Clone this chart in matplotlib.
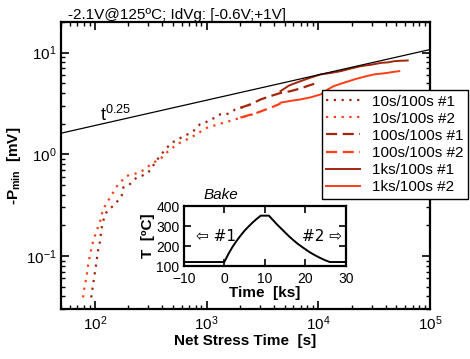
import matplotlib
matplotlib.use("Agg")
import matplotlib.pyplot as plt

plt.rcParams.update({
    "font.family": ["Liberation Sans", "DejaVu Sans"],
    "mathtext.fontset": "custom",
    "mathtext.rm": "Liberation Sans",
    "mathtext.it": "Liberation Sans:italic",
    "mathtext.bf": "Liberation Sans:bold",
    "font.size": 10,
})

DARK = "#a3250c"
ORANGE = "#ff3d17"

# 10s/100s (dotted)
t_dot1 = [93, 97, 100, 104, 107, 111, 115, 119, 127, 137, 146, 156, 174, 180, 199,
          237, 263, 301, 340, 380, 430, 489, 550, 621, 690, 764, 820, 877, 960,
          1080, 1200, 1330, 1480, 1630, 1800, 2010, 2230, 2470]
v_dot1 = [0.039, 0.054, 0.067, 0.090, 0.113, 0.136, 0.185, 0.222, 0.268, 0.291, 0.311,
          0.335, 0.390, 0.471, 0.489, 0.590, 0.612, 0.660, 0.80, 0.95, 1.12, 1.30,
          1.38, 1.51, 1.58, 1.69, 1.85, 1.97, 2.02, 2.20, 2.28, 2.47, 2.45, 2.56,
          2.75, 2.86, 2.95, 3.09]
t_dot2 = [78.5, 81, 84, 87, 90, 93, 97, 104, 111, 115, 119, 127, 137, 146, 162, 174,
          193, 221, 254, 291, 334, 384, 441, 510, 581, 670, 764, 880, 1010, 1200,
          1420, 1700, 2010, 2400, 2840]
v_dot2 = [0.039, 0.050, 0.060, 0.080, 0.097, 0.117, 0.141, 0.177, 0.213, 0.248, 0.291,
          0.324, 0.376, 0.420, 0.508, 0.547, 0.612, 0.637, 0.660, 0.739, 0.827, 0.893,
          1.04, 1.18, 1.30, 1.40, 1.51, 1.66, 1.82, 1.93, 2.04, 2.15, 2.29, 2.40,
          2.56]

# 100s/100s (dashed)
t_dash1 = [2010, 2470, 3040, 3740, 4590, 5650, 7000, 8300, 9800]
v_dash1 = [2.86, 3.09, 3.45, 3.73, 4.0, 4.17, 4.45, 4.75, 5.03]
t_dash2 = [2010, 2840, 3740, 4590]
v_dash2 = [2.29, 2.56, 2.86, 3.15]

# 1ks/100s (solid)
t_sol1 = [4590, 5500, 6950, 8500, 10500, 13000, 15900, 19500, 24000, 30000, 36400,
          42000, 47900, 55000, 63100]
v_sol1 = [4.17, 4.75, 5.23, 5.65, 6.09, 6.3, 6.56, 6.95, 7.34, 7.6, 7.91, 8.0, 8.22,
          8.3, 8.35]
t_sol2 = [4590, 5700, 6950, 8500, 10500, 12000, 13800, 17000, 20900, 26000, 31600,
          36500, 41700, 47000, 53000]
v_sol2 = [3.21, 3.35, 3.46, 3.62, 3.87, 4.3, 4.68, 5.05, 5.43, 5.8, 6.09, 6.2, 6.31,
          6.45, 6.56]

# t^0.25 guide line
t_fit = [50, 1e5]
v_fit = [1.61, 10.7]

# bake profile (inset)
bake_time = [-10, 0, 1, 2, 3, 4, 5, 6, 7, 8, 9, 11, 12, 13, 14, 15, 16, 17, 18, 19,
             20, 21, 22, 23, 24, 25, 26, 30]
bake_temp = [120, 120, 160, 195, 225, 252, 277, 298, 318, 336, 352, 352, 330, 308,
             288, 268, 248, 230, 213, 198, 184, 170, 158, 147, 137, 128, 120, 120]

fig = plt.figure(figsize=(4.7, 3.59), dpi=100)
ax = fig.add_axes([0.130, 0.139, 0.785, 0.800])

dotted = (0, (1, 2.5))
dashed = (0, (5, 2.5))
ax.plot(t_dot1, v_dot1, color=DARK, ls=dotted, lw=1.6, label="10s/100s #1")
ax.plot(t_dot2, v_dot2, color=ORANGE, ls=dotted, lw=1.6, label="10s/100s #2")
ax.plot(t_dash1, v_dash1, color=DARK, ls=dashed, lw=1.6, label="100s/100s #1")
ax.plot(t_dash2, v_dash2, color=ORANGE, ls=dashed, lw=1.6, label="100s/100s #2")
ax.plot(t_sol1, v_sol1, color=DARK, lw=1.4, label="1ks/100s #1")
ax.plot(t_sol2, v_sol2, color=ORANGE, lw=1.4, label="1ks/100s #2")
ax.plot(t_fit, v_fit, color="black", lw=0.9)
ax.text(111, 2.1, r"t$^{0.25}$", fontsize=13, ha="left", va="baseline")

ax.set_xscale("log")
ax.set_yscale("log")
ax.set_xlim(50, 1e5)
ax.set_ylim(0.03, 20)
for s in ax.spines.values():
    s.set_linewidth(1.6)
ax.tick_params(which="both", direction="in", top=True, right=True, labelsize=11)
ax.tick_params(which="major", length=6, width=1.2)
ax.tick_params(which="minor", length=3, width=1.0)
ax.set_xlabel("Net Stress Time  [s]", fontsize=11, fontweight="bold", labelpad=1)
ax.set_ylabel(r"-P$_\mathbf{min}$  [mV]", fontsize=11, fontweight="bold", labelpad=2)
ax.set_title("-2.1V@125ºC; IdVg: [-0.6V;+1V]", fontsize=11, loc="left",
             x=0.02, pad=2)

fig.legend(loc="upper right", bbox_to_anchor=(0.996, 0.749), borderaxespad=0,
           fontsize=11, frameon=True, fancybox=False, framealpha=1,
           edgecolor="black", handlelength=2.2, handletextpad=0.8,
           labelspacing=0.2, borderpad=0.3)
fig.legends[0].get_frame().set_linewidth(1.0)

ins = fig.add_axes([0.391, 0.259, 0.345, 0.167])
ins.plot(bake_time, bake_temp, color="black", lw=1.4)
ins.set_xlim(-10, 30)
ins.set_ylim(100, 400)
ins.set_xticks([-10, 0, 10, 20, 30])
ins.set_yticks([100, 200, 300, 400])
for s in ins.spines.values():
    s.set_linewidth(1.6)
ins.tick_params(direction="in", top=True, right=True, length=5, width=1.2,
                labelsize=10)
ins.tick_params(axis="x", pad=4)
ins.tick_params(axis="y", pad=3)
ins.set_xlabel("Time  [ks]", fontsize=11, fontweight="bold", labelpad=0)
ins.set_ylabel("T  [ºC]", fontsize=11, fontweight="bold", labelpad=1)
ins.text(0.12, 1.06, "Bake", transform=ins.transAxes, fontsize=11,
         style="italic", ha="left", va="bottom")
ins.text(-2, 250, "\u21e6 #1", fontsize=11, ha="center", va="center",
         family=["DejaVu Sans"])
ins.text(24, 250, "#2 \u21e8", fontsize=11, ha="center", va="center",
         family=["DejaVu Sans"])

fig.savefig("out.png", dpi=100)
